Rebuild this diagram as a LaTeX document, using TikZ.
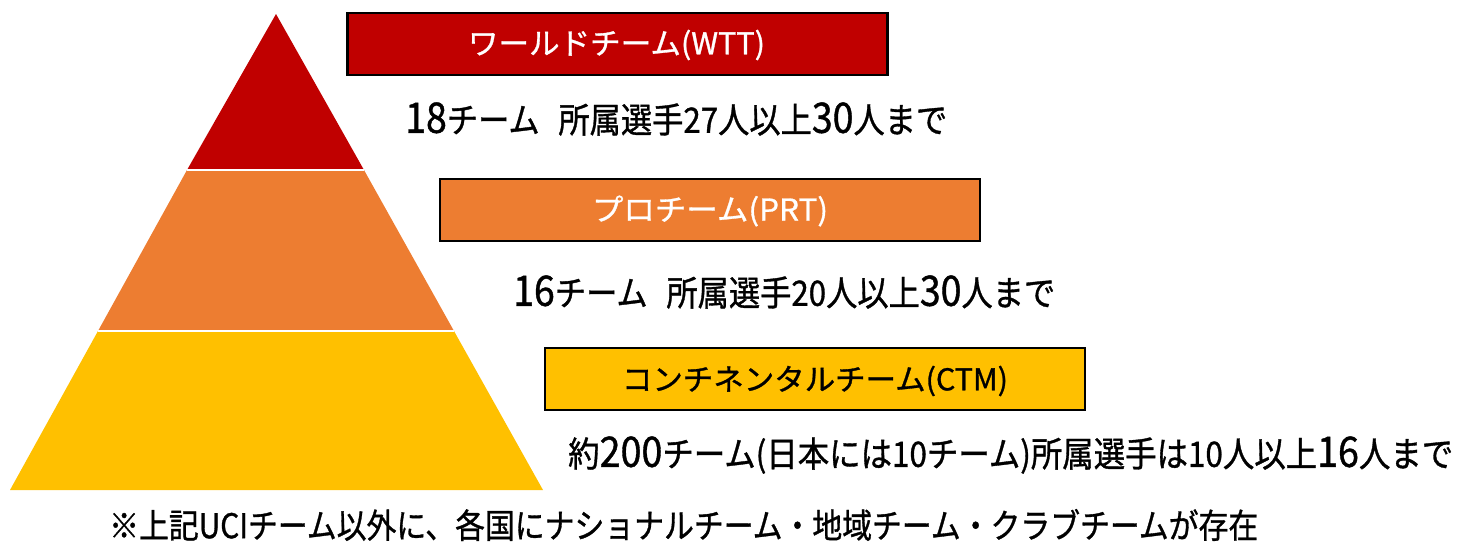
\documentclass[tikz,border=0pt]{standalone}
\usepackage{graphicx}
\usepackage{fontspec}
\setmainfont{Noto Sans CJK JP}[FakeBold=1.0]
\definecolor{wttred}{HTML}{C00000}
\definecolor{prtorange}{HTML}{ED7D31}
\definecolor{ctmgold}{HTML}{FFC000}
\newcommand{\bignum}[1]{{\fontsize{42}{42}\selectfont #1}}
\newcommand{\fitw}[2]{\resizebox{#1}{\height}{#2}}
\begin{document}
\begin{tikzpicture}[x=1pt,y=-1pt,
  tier/.style={draw=white,line width=1.5pt},
  labelbox/.style={draw=black,line width=2.8pt,minimum width=540pt,minimum height=62pt,inner sep=0pt},
  labeltext/.style={inner sep=0pt,font=\fontsize{30}{30}\selectfont},
  info/.style={anchor=west,inner sep=0pt,font=\fontsize{35}{35}\selectfont}]
\useasboundingbox (0,0) rectangle (1463,542);
% pyramid
\coordinate (apex) at (276,14);
\coordinate (tl) at (187,170);
\coordinate (tr) at (364,170);
\coordinate (ml) at (98,331);
\coordinate (mr) at (454,331);
\coordinate (bl) at (10,490);
\coordinate (br) at (543,490);
\fill[ctmgold] (ml) -- (mr) -- (br) -- (bl) -- cycle;
\fill[prtorange] (tl) -- (tr) -- (mr) -- (ml) -- cycle;
\fill[wttred] (apex) -- (tr) -- (tl) -- cycle;
\draw[tier] (tl) -- (tr);
\draw[tier] (ml) -- (mr);
% label boxes
\node[labelbox,fill=wttred] (wtt) at (617.5,44) {};
\node[labelbox,fill=prtorange] (prt) at (710,210) {};
\node[labelbox,fill=ctmgold] (ctm) at (815,379) {};
\node[labeltext,text=white] (wttl) at (616.5,45) {\fitw{297pt}{ワールドチーム(WTT)}};
\node[labeltext,text=white] (prtl) at (710,211) {\fitw{236pt}{プロチーム(PRT)}};
\node[labeltext,text=black] (ctml) at (815,381) {\fitw{386pt}{コンチネンタルチーム(CTM)}};
% info lines
\node[info] (i1) at (405,119) {\fitw{542pt}{\bignum{18}チーム\hspace{0.6em}所属選手27人以上\bignum{30}人まで}};
\node[info] (i2) at (513,292) {\fitw{542pt}{\bignum{16}チーム\hspace{0.6em}所属選手20人以上\bignum{30}人まで}};
\node[info] (i3) at (568,455) {\fitw{885pt}{約\bignum{200}チーム(日本には10チーム)所属選手は10人以上\bignum{16}人まで}};
\node[info,font=\fontsize{34}{34}\selectfont] (note) at (109,525) {\fitw{1149pt}{※上記UCIチーム以外に、各国にナショナルチーム・地域チーム・クラブチームが存在}};
\end{tikzpicture}
\end{document}
